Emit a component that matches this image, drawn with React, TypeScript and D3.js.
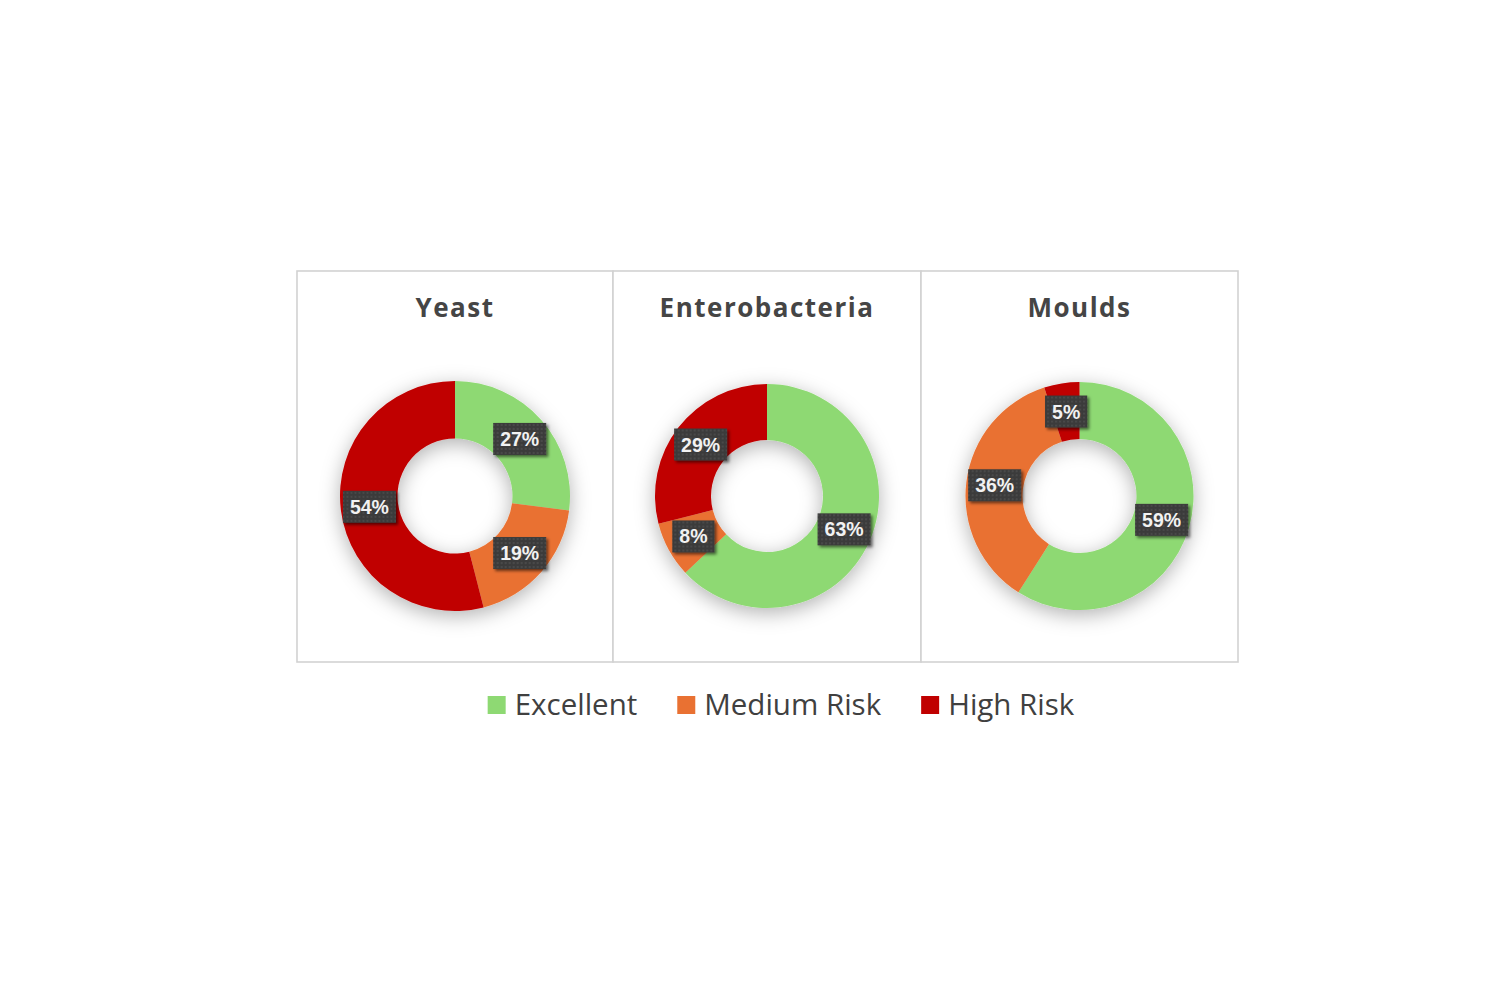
import { useEffect, useRef } from "react";
import * as d3 from "d3";

// Data (percent of samples)
const categories = ["Excellent", "Medium Risk", "High Risk"];
const panelTitles = ["Yeast", "Enterobacteria", "Moulds"];
const yeastValues = [27, 19, 54];
const enterobacteriaValues = [63, 8, 29];
const mouldsValues = [59, 36, 5];

const COLORS = ["#8ED973", "#E97132", "#C00000"];

const WIDTH = 1500;
const HEIGHT = 1000;
// Panel frame layout
const PANEL_EDGES = [297, 613, 921, 1238];
const PANEL_TOP = 271;
const PANEL_BOTTOM = 662;
const DONUT_CY = 496;
const DONUT_R = [115, 112, 114];

export default function App() {
  const svgRef = useRef<SVGSVGElement | null>(null);

  useEffect(() => {
    const svg = svgRef.current;
    if (!svg) return;
    svg.innerHTML = "";
    const root = d3.select(svg);

    const defs = root.append("defs");
    const donutShadow = defs.append("filter")
      .attr("id", "donutShadow")
      .attr("x", "-50%").attr("y", "-50%")
      .attr("width", "200%").attr("height", "200%");
    donutShadow.append("feDropShadow")
      .attr("dx", 0).attr("dy", 5)
      .attr("stdDeviation", 10)
      .attr("flood-color", "#000")
      .attr("flood-opacity", 0.3);

    const labelShadow = defs.append("filter")
      .attr("id", "labelShadow")
      .attr("x", "-30%").attr("y", "-30%")
      .attr("width", "160%").attr("height", "160%");
    labelShadow.append("feDropShadow")
      .attr("dx", 2).attr("dy", 2)
      .attr("stdDeviation", 1.8)
      .attr("flood-color", "#000")
      .attr("flood-opacity", 0.55);

    const dots = defs.append("pattern")
      .attr("id", "dots")
      .attr("width", 4).attr("height", 4)
      .attr("patternUnits", "userSpaceOnUse");
    dots.append("rect").attr("width", 4).attr("height", 4).attr("fill", "#3b3b3b");
    dots.append("circle").attr("cx", 2).attr("cy", 2).attr("r", 0.9).attr("fill", "#505050");

    const series = [yeastValues, enterobacteriaValues, mouldsValues];

    const pie = d3.pie<number>().sort(null).value((d) => d);

    series.forEach((values, i) => {
      const x0 = PANEL_EDGES[i];
      const x1 = PANEL_EDGES[i + 1];
      const cx = (x0 + x1) / 2;
      const r = DONUT_R[i];

      root.append("rect")
        .attr("x", x0).attr("y", PANEL_TOP)
        .attr("width", x1 - x0).attr("height", PANEL_BOTTOM - PANEL_TOP)
        .attr("fill", "#fff")
        .attr("stroke", "#d2d2d2")
        .attr("stroke-width", 1.6);

      root.append("text")
        .attr("x", cx).attr("y", 317)
        .attr("text-anchor", "middle")
        .attr("font-family", "'Open Sans', sans-serif")
        .attr("font-weight", 700)
        .attr("font-size", 26)
        .attr("letter-spacing", 1.5)
        .attr("fill", "#454545")
        .text(panelTitles[i]);

      const arc = d3.arc<d3.PieArcDatum<number>>()
        .innerRadius(r * 0.5)
        .outerRadius(r);

      const arcs = pie(values);
      const g = root.append("g").attr("transform", `translate(${cx},${DONUT_CY})`);

      g.append("g")
        .attr("filter", "url(#donutShadow)")
        .selectAll("path")
        .data(arcs)
        .join("path")
        .attr("d", arc)
        .attr("fill", (_, j) => COLORS[j]);

      const labels = g.selectAll<SVGGElement, d3.PieArcDatum<number>>("g.label")
        .data(arcs)
        .join("g")
        .attr("class", "label")
        .attr("transform", (d) => {
          const [lx, ly] = arc.centroid(d);
          return `translate(${lx},${ly})`;
        });

      labels.each(function (d) {
        const lg = d3.select(this);
        const t = lg.append("text")
          .attr("text-anchor", "middle")
          .attr("dy", "0.36em")
          .attr("font-family", "'Liberation Sans', Arial, sans-serif")
          .attr("font-weight", 700)
          .attr("font-size", 19.5)
          .attr("fill", "#f2f2f2")
          .text(`${d.data}%`);
        const w = (t.node() as SVGTextElement).getComputedTextLength() + 14;
        const h = 32;
        lg.insert("rect", "text")
          .attr("x", -w / 2).attr("y", -h / 2)
          .attr("width", w).attr("height", h)
          .attr("fill", "url(#dots)")
          .attr("filter", "url(#labelShadow)");
      });
    });

    // Legend, centred under the panels
    const legend = root.append("g");
    const sq = 18;
    const gapText = 9;
    const gapItem = 40;
    let lx = 0;
    categories.forEach((c, i) => {
      legend.append("rect")
        .attr("x", lx).attr("y", -sq / 2)
        .attr("width", sq).attr("height", sq)
        .attr("fill", COLORS[i]);
      const t = legend.append("text")
        .attr("x", lx + sq + gapText)
        .attr("dy", "0.35em")
        .attr("font-family", "'Open Sans', sans-serif")
        .attr("font-size", 29.5)
        .attr("fill", "#404040")
        .text(c);
      lx += sq + gapText + (t.node() as SVGTextElement).getComputedTextLength() + gapItem;
    });
    const total = lx - gapItem;
    legend.attr("transform", `translate(${781 - total / 2},705)`);
  }, []);

  return (
    <svg
      ref={svgRef}
      width={WIDTH}
      height={HEIGHT}
      style={{ position: "absolute", left: 0, top: 0, background: "#fff" }}
    />
  );
}
